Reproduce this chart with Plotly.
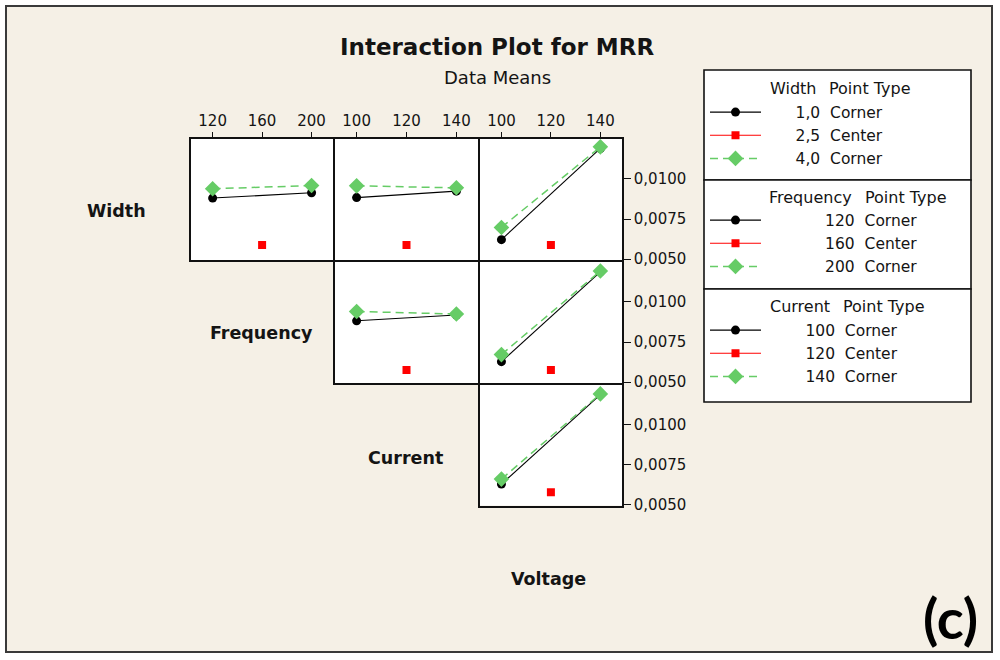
import plotly.graph_objects as go

# ---------------- data (MRR data means) ----------------
freq_levels = [120, 200]
freq_center = [160]
cur_levels = [100, 140]
cur_center = [120]
volt_levels = [100, 140]
volt_center = [120]

width_names = ["1,0", "2,5", "4,0"]
freq_names = ["120", "160", "200"]
cur_names = ["100", "120", "140"]
point_types = ["Corner", "Center", "Corner"]

# Width (rows) vs Frequency / Current / Voltage
width_freq_lo = [0.00881, 0.00914]
width_freq_hi = [0.00939, 0.00959]
width_freq_ctr = [0.00588]
width_cur_lo = [0.00884, 0.00924]
width_cur_hi = [0.00957, 0.00945]
width_cur_ctr = [0.00588]
width_volt_lo = [0.00622, 0.01190]
width_volt_hi = [0.00698, 0.01200]
width_volt_ctr = [0.00588]
# Frequency vs Current / Voltage
freq_cur_lo = [0.00882, 0.00918]
freq_cur_hi = [0.00940, 0.00924]
freq_cur_ctr = [0.00576]
freq_volt_lo = [0.00628, 0.01186]
freq_volt_hi = [0.00672, 0.01192]
freq_volt_ctr = [0.00576]
# Current vs Voltage
cur_volt_lo = [0.00628, 0.01188]
cur_volt_hi = [0.00659, 0.01192]
cur_volt_ctr = [0.00577]

y_ticks = [0.0050, 0.0075, 0.0100]

# ---------------- layout helpers ----------------
W, H = 1000, 660          # reference canvas
FIG_H = 668               # rendered page height (viewer fits page into 660)
def px(x):
    return x / W
def py(y):
    return 1 - y / H

LW = 1.6
col_px = [(191, 333.2), (334.8, 478.2), (479.8, 622)]
row_px = [(139, 260.2), (261.8, 383.2), (384.8, 505.5)]
x_ranges = [[102.5, 217.5], [91.25, 148.75], [91.25, 148.75]]
y_range = [0.00494, 0.01249]

BLACK = "#000000"
RED = "#ff0000"
GREEN = "#66cc66"
FONT = "DejaVu Sans"
TXT = "#141414"
NB = "\u00a0"

panels = [
    # row, col, x levels, x center, lo, hi, ctr
    (0, 0, freq_levels, freq_center, width_freq_lo, width_freq_hi, width_freq_ctr),
    (0, 1, cur_levels, cur_center, width_cur_lo, width_cur_hi, width_cur_ctr),
    (0, 2, volt_levels, volt_center, width_volt_lo, width_volt_hi, width_volt_ctr),
    (1, 1, cur_levels, cur_center, freq_cur_lo, freq_cur_hi, freq_cur_ctr),
    (1, 2, volt_levels, volt_center, freq_volt_lo, freq_volt_hi, freq_volt_ctr),
    (2, 2, volt_levels, volt_center, cur_volt_lo, cur_volt_hi, cur_volt_ctr),
]
row_names = [width_names, freq_names, cur_names]
legend_ids = ["legend", "legend2", "legend3"]
legend_pad = [6, 12, 8]   # leading spaces to right-align level numbers under headers

fig = go.Figure()
layout = {}
seen_rows = set()
for k, (r, c, xl, xc, lo, hi, ctr) in enumerate(panels, start=1):
    xa = "x" if k == 1 else f"x{k}"
    ya = "y" if k == 1 else f"y{k}"
    first = r not in seen_rows
    seen_rows.add(r)
    names = [NB * legend_pad[r] + f"{n}{NB}{NB}{t}" for n, t in zip(row_names[r], point_types)]
    fig.add_trace(go.Scatter(
        x=xl, y=lo, xaxis=xa, yaxis=ya, mode="lines+markers", name=names[0],
        line=dict(color=BLACK, width=1.1),
        marker=dict(symbol="circle", size=9, color=BLACK),
        legend=legend_ids[r], showlegend=first))
    fig.add_trace(go.Scatter(
        x=xc, y=ctr, xaxis=xa, yaxis=ya, mode="lines+markers", name=names[1],
        line=dict(color=RED, width=1.1),
        marker=dict(symbol="square", size=8, color=RED),
        legend=legend_ids[r], showlegend=first))
    fig.add_trace(go.Scatter(
        x=xl, y=hi, xaxis=xa, yaxis=ya, mode="lines+markers", name=names[2],
        line=dict(color=GREEN, width=1.5, dash="8px,5px"),
        marker=dict(symbol="diamond", size=12, color=GREEN),
        legend=legend_ids[r], showlegend=first))

    x0, x1 = col_px[c]
    y0, y1 = row_px[r]
    top_row = (r == 0)
    right_col = (c == 2)
    xkey = "xaxis" if k == 1 else f"xaxis{k}"
    ykey = "yaxis" if k == 1 else f"yaxis{k}"
    xticks = xl[:1] + xc + xl[1:]
    layout[xkey] = dict(
        domain=[px(x0), px(x1)], anchor=ya, range=x_ranges[c],
        side="top", showline=True, mirror=True, linecolor="#111", linewidth=LW,
        showgrid=False, zeroline=False,
        tickvals=xticks, ticktext=[str(v) for v in xticks],
        ticks="outside" if top_row else "", ticklen=5, tickcolor="#111",
        showticklabels=top_row, tickfont=dict(family=FONT, size=15, color=TXT),
    )
    layout[ykey] = dict(
        domain=[py(y1), py(y0)], anchor=xa, range=y_range,
        side="right", showline=True, mirror=True, linecolor="#111", linewidth=LW,
        showgrid=False, zeroline=False,
        tickvals=y_ticks, tickformat=".4f",
        ticks="outside" if right_col else "", ticklen=7, tickcolor="#111",
        showticklabels=right_col, tickfont=dict(family=FONT, size=15, color=TXT),
    )

fig.update_layout(**layout)

annotations = [
    dict(text="<b>Interaction Plot for MRR</b>", x=px(497), y=py(47),
         font=dict(family=FONT, size=23, color=TXT)),
    dict(text="Data Means", x=px(497), y=py(77),
         font=dict(family=FONT, size=18, color=TXT)),
    dict(text="<b>Width</b>", x=px(116), y=py(211),
         font=dict(family=FONT, size=17.5, color=TXT)),
    dict(text="<b>Frequency</b>", x=px(261), y=py(333.5),
         font=dict(family=FONT, size=17.5, color=TXT)),
    dict(text="<b>Current</b>", x=px(405), y=py(458),
         font=dict(family=FONT, size=17.5, color=TXT)),
    dict(text="<b>Voltage</b>", x=px(548), y=py(579),
         font=dict(family=FONT, size=17.5, color=TXT)),
    dict(text="<b>(c)</b>", x=px(950), y=py(617),
         font=dict(family="Lato", size=56, color="#000")),
]
headers = [("Width", 818, 88.5), ("Frequency", 854, 197), ("Current", 832, 306)]
for name, xr, yc in headers:
    annotations.append(dict(text=name, x=px(xr), y=py(yc), xanchor="right",
                            font=dict(family=FONT, size=16, color=TXT)))
    annotations.append(dict(text="Point Type", x=px(xr + 9), y=py(yc), xanchor="left",
                            font=dict(family=FONT, size=16, color=TXT)))
for a in annotations:
    a.setdefault("xanchor", "center")
    a.setdefault("yanchor", "middle")
    a["xref"] = "paper"
    a["yref"] = "paper"
    a["showarrow"] = False

shapes = [
    # white outer margin strip
    dict(type="rect", xref="paper", yref="paper", x0=0, y0=0, x1=1, y1=1,
         line=dict(color="#ffffff", width=14), fillcolor="rgba(0,0,0,0)", layer="above"),
    # outer frame
    dict(type="rect", xref="paper", yref="paper", x0=px(6), y0=py(652), x1=px(992), y1=py(6),
         line=dict(color="#3a3a3a", width=2), fillcolor="rgba(0,0,0,0)", layer="above"),
]
boxes = [(70, 180), (180, 289), (289, 402)]
for (t, b) in boxes:
    shapes.append(dict(type="rect", xref="paper", yref="paper", x0=px(704), x1=px(971),
                       y0=py(b), y1=py(t), line=dict(color="#111", width=1.6),
                       fillcolor="#ffffff", layer="below"))

legend_tops = [95.5, 203.5, 313.5]
leg_common = dict(xanchor="left", yanchor="top", bgcolor="rgba(0,0,0,0)", borderwidth=0,
                  font=dict(family=FONT, size=15.5, color=TXT), itemwidth=51,
                  itemclick=False, itemdoubleclick=False)
fig.update_layout(
    legend=dict(x=px(705), y=py(legend_tops[0]), **leg_common),
    legend2=dict(x=px(705), y=py(legend_tops[1]), **leg_common),
    legend3=dict(x=px(705), y=py(legend_tops[2]), **leg_common),
)

fig.update_layout(
    width=W, height=FIG_H, autosize=False,
    margin=dict(l=0, r=0, t=0, b=0),
    paper_bgcolor="#f5f0e6", plot_bgcolor="#ffffff",
    separators=",.",
    showlegend=True,
    annotations=annotations, shapes=shapes,
)

fig.write_html(
    "out.html",
    config={"displayModeBar": False, "responsive": False},
    post_script=(
        "document.body.style.margin='0px';"
        "document.body.style.overflow='hidden';"
        "document.documentElement.style.overflow='hidden';"
    ),
)
